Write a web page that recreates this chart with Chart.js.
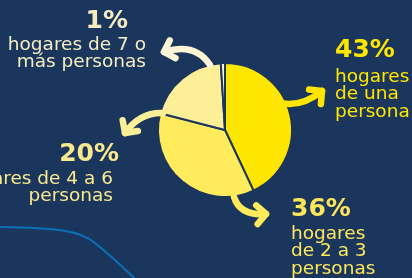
<!DOCTYPE html>
<html>
<head>
<meta charset="utf-8">
<script src="https://cdn.jsdelivr.net/npm/chart.js@4"></script>
<style>
  html, body { margin: 0; padding: 0; background: #1b365d; overflow: hidden; }
  #wrap { position: relative; width: 412px; height: 278px; }
  canvas { position: absolute; left: 0; top: 0; }
  .pct { position: absolute; font-family: "DejaVu Sans", sans-serif; font-weight: bold; font-size: 25px; line-height: 24px; white-space: nowrap; }
  .lbl { position: absolute; font-family: "DejaVu Sans", sans-serif; font-size: 18.5px; line-height: 17.5px; white-space: nowrap; }
</style>
</head>
<body>
<div id="wrap">
  <canvas id="pie" width="412" height="278"></canvas>
</div>
<script>
// household size shares (%)
const categories = ['hogares de una persona', 'hogares de 2 a 3 personas', 'hogares de 4 a 6 personas', 'hogares de 7 o más personas'];
const shares = [43, 36, 20, 1];
const labelLines = [
    ['hogares', 'de una', 'persona'],
    ['hogares', 'de 2 a 3', 'personas'],
    ['hogares de 4 a 6', 'personas'],
    ['hogares de 7 o', 'más personas']
];
const sliceColors = ['#ffe600', '#ffeb5c', '#fdef98', '#fdf5d6'];
const textColors = ['#ffe600', '#fde65c', '#f9e98e', '#f4edc2'];

// label placement: [align, x of percent, baseline of percent, x of lines, baseline of first line]
const labelPos = [
    ['left', 335, 58, 335, 82],
    ['left', 291, 217, 291, 239],
    ['right', 119, 162, 113, 184],
    ['right', 128, 29, 146, 50]
];

// arrows relative to the pie centre: start, control, end
const arrows = [
    [[51, -28], [75, -21], [97, -39]],
    [[9, 67], [15, 86], [41, 84]],
    [[-62, -17], [-85, -18], [-100, 3]],
    [[-15, -65], [-30, -88], [-61, -78]]
];

const wrap = document.getElementById('wrap');
shares.forEach((v, i) => {
    const p = labelPos[i];
    const pct = document.createElement('div');
    pct.className = 'pct';
    pct.textContent = v + '%';
    pct.style.color = textColors[i];
    pct.style.top = (p[2] - 20.6) + 'px';
    const lbl = document.createElement('div');
    lbl.className = 'lbl';
    lbl.innerHTML = labelLines[i].join('<br>');
    lbl.style.color = textColors[i];
    lbl.style.top = (p[4] - 15.2) + 'px';
    if (p[0] === 'left') {
        pct.style.left = p[1] + 'px';
        lbl.style.left = p[3] + 'px';
    } else {
        pct.style.right = (412 - p[1]) + 'px';
        lbl.style.right = (412 - p[3]) + 'px';
        lbl.style.textAlign = 'right';
    }
    wrap.appendChild(pct);
    wrap.appendChild(lbl);
});

const decor = {
    id: 'decor',
    beforeDraw(chart) {
        const ctx = chart.ctx;
        ctx.save();
        ctx.strokeStyle = '#0b6fb8';
        ctx.lineWidth = 2.2;
        ctx.beginPath();
        ctx.moveTo(0, 227);
        ctx.bezierCurveTo(55, 228, 80, 230, 95, 243);
        ctx.quadraticCurveTo(115, 259, 136, 280);
        ctx.stroke();
        ctx.restore();
    },
    afterDraw(chart) {
        const arc = chart.getDatasetMeta(0).data[0];
        const cx = arc.x, cy = arc.y;
        const ctx = chart.ctx;
        ctx.save();
        ctx.lineWidth = 6.5;
        ctx.lineCap = 'round';
        ctx.lineJoin = 'round';
        arrows.forEach((a, i) => {
            const s = a[0], c = a[1], e = a[2];
            ctx.strokeStyle = sliceColors[i];
            ctx.beginPath();
            ctx.moveTo(cx + s[0], cy + s[1]);
            ctx.quadraticCurveTo(cx + c[0], cy + c[1], cx + e[0], cy + e[1]);
            ctx.stroke();
            const ang = Math.atan2(e[1] - c[1], e[0] - c[0]);
            const len = 13;
            ctx.beginPath();
            ctx.moveTo(cx + e[0] - len * Math.cos(ang - 0.8), cy + e[1] - len * Math.sin(ang - 0.8));
            ctx.lineTo(cx + e[0], cy + e[1]);
            ctx.lineTo(cx + e[0] - len * Math.cos(ang + 0.8), cy + e[1] - len * Math.sin(ang + 0.8));
            ctx.stroke();
        });
        ctx.restore();
    }
};

new Chart(document.getElementById('pie'), {
    type: 'pie',
    data: {
        labels: categories,
        datasets: [{
            data: shares,
            backgroundColor: sliceColors,
            borderColor: '#1b365d',
            borderWidth: 2
        }]
    },
    options: {
        responsive: false,
        animation: false,
        layout: { padding: { left: 157, right: 119, top: 62, bottom: 80 } },
        plugins: {
            legend: { display: false },
            tooltip: { enabled: false }
        }
    },
    plugins: [decor]
});
</script>
</body>
</html>
